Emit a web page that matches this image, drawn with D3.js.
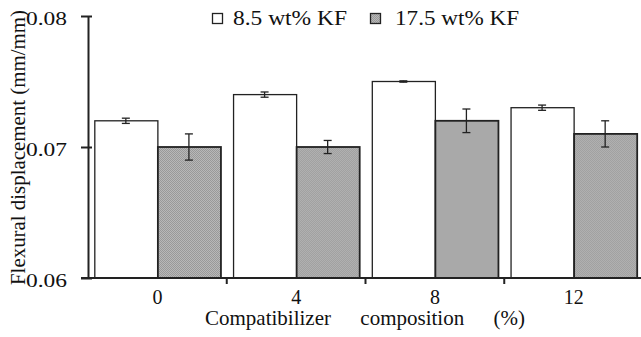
<!DOCTYPE html>
<html>
<head>
<meta charset="utf-8">
<style>
  body { margin: 0; background: #fff; }
  text { font-family: "Liberation Serif", "Times New Roman", serif; fill: #111; }
</style>
</head>
<body>
<svg id="chart" width="641" height="337"></svg>
<script src="https://cdn.jsdelivr.net/npm/d3@7"></script>
<script>
// data
var categories = ["0", "4", "8", "12"];
var seriesNames = ["8.5 wt% KF", "17.5 wt% KF"];
var low = [0.072, 0.074, 0.075, 0.073];       // 8.5 wt% KF
var lowErr = [0.0002, 0.0002, 0.00005, 0.0002];
var high = [0.070, 0.070, 0.072, 0.071];      // 17.5 wt% KF
var highErr = [0.001, 0.0005, 0.0009, 0.001];
var yTicks = [0.06, 0.07, 0.08];

var svg = d3.select("#chart");

// fine dotted grey fill like the original
var defs = svg.append("defs");
var pat = defs.append("pattern")
    .attr("id", "dots")
    .attr("width", 2).attr("height", 2)
    .attr("patternUnits", "userSpaceOnUse");
pat.append("rect").attr("width", 2).attr("height", 2).attr("fill", "#b8b8b8");
pat.append("rect").attr("width", 1).attr("height", 1).attr("fill", "#999");
pat.append("rect").attr("x", 1).attr("y", 1).attr("width", 1).attr("height", 1).attr("fill", "#999");

var mLeft = 88, mRight = 643, mTop = 16, mBottom = 278;

var x = d3.scaleBand().domain(categories).range([mLeft, mRight]).paddingInner(0).paddingOuter(0);
var xs = d3.scaleBand().domain([0, 1]).range([0, x.bandwidth()]).paddingInner(0).paddingOuter(0.1);
var y = d3.scaleLinear().domain([0.06, 0.08]).range([mBottom, mTop]);

var rows = categories.map(function (c, i) {
    return { cat: c, vals: [ {s: 0, v: low[i], e: lowErr[i]}, {s: 1, v: high[i], e: highErr[i]} ] };
});

var g = svg.append("g").selectAll("g").data(rows).join("g")
    .attr("transform", d => "translate(" + x(d.cat) + ",0)");

g.selectAll("rect").data(d => d.vals).join("rect")
    .attr("x", d => xs(d.s) + 0.5)
    .attr("y", d => y(d.v))
    .attr("width", xs.bandwidth())
    .attr("height", d => y(0.06) - y(d.v))
    .attr("fill", d => d.s == 0 ? "#fff" : "url(#dots)")
    .attr("stroke", "#222")
    .attr("stroke-width", d => d.s == 0 ? 1.3 : 1.8);

// error bars
var eb = g.selectAll("g.err").data(d => d.vals).join("g").attr("class", "err")
    .attr("stroke", "#222").attr("stroke-width", 1.3);
eb.append("line")
    .attr("x1", d => xs(d.s) + xs.bandwidth() / 2)
    .attr("x2", d => xs(d.s) + xs.bandwidth() / 2)
    .attr("y1", d => y(d.v + d.e))
    .attr("y2", d => y(d.v - d.e));
[1, -1].forEach(function (sgn) {
    eb.append("line")
        .attr("x1", d => xs(d.s) + xs.bandwidth() / 2 - 4)
        .attr("x2", d => xs(d.s) + xs.bandwidth() / 2 + 4)
        .attr("y1", d => y(d.v + sgn * d.e))
        .attr("y2", d => y(d.v + sgn * d.e));
});

// y axis
var yAxis = svg.append("g")
    .attr("transform", "translate(" + mLeft + ",0)")
    .call(d3.axisLeft(y).tickValues(yTicks).tickSize(7).tickSizeOuter(0).tickPadding(14).tickFormat(d3.format(".2f")));
yAxis.select(".domain").attr("stroke", "#222").attr("stroke-width", 2);
yAxis.selectAll(".tick line").attr("stroke", "#222").attr("stroke-width", 2).attr("x2", 4).attr("x1", -7);
yAxis.selectAll(".tick text")
    .style("font-size", "19px").style("font-family", "Liberation Serif")
    .attr("fill", "#111").attr("dy", "0.45em")
    .attr("textLength", 41).attr("lengthAdjust", "spacingAndGlyphs");

// x axis
var xAxis = svg.append("g").attr("transform", "translate(0," + mBottom + ")");
xAxis.append("line").attr("x1", mLeft - 7).attr("x2", mRight).attr("stroke", "#222").attr("stroke-width", 2);
xAxis.selectAll("line.tk").data(categories.slice(1)).join("line").attr("class", "tk")
    .attr("x1", d => x(d)).attr("x2", d => x(d))
    .attr("y1", 0).attr("y2", 6)
    .attr("stroke", "#222").attr("stroke-width", 2);
xAxis.selectAll("text").data(categories).join("text")
    .attr("x", d => x(d) + x.bandwidth() / 2)
    .attr("y", 26)
    .attr("text-anchor", "middle")
    .style("font-size", "20px")
    .text(d => d);

// axis titles
var xt = svg.append("text")
    .attr("x", 205).attr("y", 325)
    .style("font-size", "21px")
    .text("Compatibilizer composition (%)");
var natural = xt.node().getComputedTextLength();
xt.style("word-spacing", Math.max(0, (320 - natural) / 2) + "px");

svg.append("text")
    .attr("transform", "translate(25,285) rotate(-90)")
    .style("font-size", "21px")
    .attr("textLength", 275).attr("lengthAdjust", "spacingAndGlyphs")
    .text("Flexural displacement (mm/mm)");

// legend
var legX = [212, 370], legTextX = [233, 395], legTextW = [114, 124];
var li = svg.append("g").selectAll("g").data(seriesNames).join("g");
li.append("rect")
    .attr("x", (d, i) => legX[i] + 0.5).attr("y", 13.5).attr("width", 10).attr("height", 10)
    .attr("fill", (d, i) => i == 0 ? "#fff" : "url(#dots)")
    .attr("stroke", "#222").attr("stroke-width", 1.3);
li.append("text")
    .attr("x", (d, i) => legTextX[i]).attr("y", 25)
    .style("font-size", "20px")
    .attr("textLength", (d, i) => legTextW[i]).attr("lengthAdjust", "spacingAndGlyphs")
    .text(d => d);
</script>
</body>
</html>
